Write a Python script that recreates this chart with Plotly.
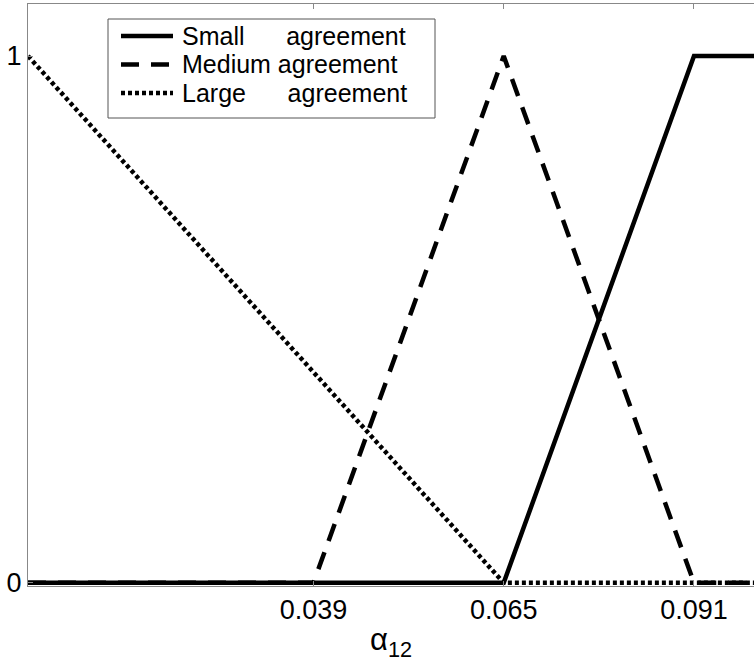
import plotly.graph_objects as go

# Data
small_x = [0.0, 0.065, 0.091, 0.1]
small_y = [0, 0, 1, 1]
medium_x = [0.0, 0.039, 0.065, 0.091, 0.1]
medium_y = [0, 0, 1, 0, 0]
large_x = [0.0, 0.065, 0.1]
large_y = [1, 0, 0]
x_ticks = [0.039, 0.065, 0.091]
x_tick_labels = ["0.039", "0.065", "0.091"]
y_ticks = [0, 1]
y_tick_labels = ["0", "1"]

NB = "\u00a0"
series_names = ["Small" + NB * 6 + "agreement", "Medium agreement",
                "Large" + NB * 6 + "agreement"]
series_dash = ["solid", "18px,12px", "4px,3px"]

fig = go.Figure()
for xs, ys, nm, ds in zip([small_x, medium_x, large_x], [small_y, medium_y, large_y],
                          series_names, series_dash):
    fig.add_trace(go.Scatter(x=xs, y=ys, mode="lines", name=nm, showlegend=False,
                             line=dict(color="black", width=4.5, dash=ds)))

# Custom legend (pixel layout converted to paper coords)
L, R, T, B = 28, 754, 4, 586
def px(v):
    return (v - L) / (R - L)
def py(v):
    return (B - v) / (B - T)

fig.add_shape(type="rect", xref="paper", yref="paper",
              x0=px(108), x1=px(435), y0=py(118), y1=py(19),
              line=dict(color="#555", width=1), fillcolor="white", layer="above")
row_y = [36, 64.5, 93]
for nm, ds, ry in zip(series_names, series_dash, row_y):
    fig.add_shape(type="line", xref="paper", yref="paper",
                  x0=px(121), x1=px(173), y0=py(ry), y1=py(ry),
                  line=dict(color="black", width=4.5, dash=ds), layer="above")
    fig.add_annotation(text=nm, xref="paper", yref="paper", x=px(181), y=py(ry),
                       xanchor="left", yanchor="middle", showarrow=False,
                       borderpad=0, font=dict(size=25, color="black"))

fig.update_layout(
    width=754, height=662,
    margin=dict(l=L, r=0, t=T, b=662 - B),
    paper_bgcolor="white", plot_bgcolor="white",
    font=dict(family="Liberation Sans, Arial, sans-serif", color="black", size=26),
    showlegend=False,
    xaxis=dict(range=[0, 0.0992], tickvals=x_ticks, ticktext=x_tick_labels,
               showgrid=False, zeroline=False, showline=True, linecolor="#888",
               linewidth=1, mirror="ticks", ticks="inside", ticklen=5,
               tickcolor="#888", tickfont=dict(size=27),
               title=dict(text="α<sub>12</sub>", font=dict(size=31), standoff=4)),
    yaxis=dict(range=[-0.006, 1.0987], tickvals=y_ticks, ticktext=y_tick_labels,
               showgrid=False, zeroline=False, showline=True, linecolor="#888",
               linewidth=1, ticks="inside", ticklen=5, tickcolor="#888",
               tickfont=dict(size=27)),
)

fig.write_html("out.html")
